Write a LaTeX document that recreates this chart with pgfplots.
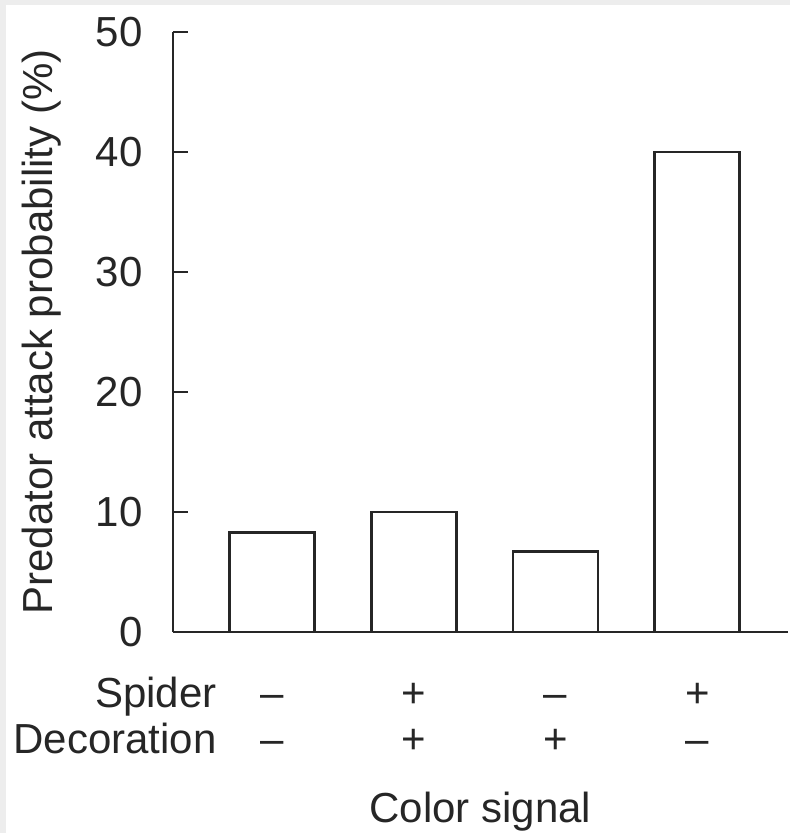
\documentclass[border=0pt]{standalone}
\usepackage{fontspec}
\setmainfont{Liberation Sans}
\usepackage{pgfplots}
\pgfplotsset{compat=1.18}

\newcommand{\chartfont}{\fontsize{21}{23}\selectfont}

\begin{document}
\begin{tikzpicture}
  % frame: light grey strip on the left and top
  \fill[gray!14] (-86.5pt,-100.5pt) rectangle (308.5pt,316pt);
  \fill[white] (-83.5pt,-100.5pt) rectangle (308.5pt,313.5pt);
  \begin{axis}[
    at={(0,0)}, anchor=south west,
    scale only axis,
    width=307.5pt, height=300pt,
    clip=false,
    ybar,
    bar width=42.5pt,
    xmin=0.3, xmax=4.64,
    ymin=0, ymax=50,
    enlargelimits=false,
    axis x line*=bottom,
    axis y line*=left,
    axis line style={-, line width=1.35pt, black!85},
    tick align=inside,
    major tick length=7.5pt,
    ytick={0,10,20,30,40,50},
    xtick={1,2,3,4},
    xticklabels={{–\\–},{+\\+},{–\\+},{+\\–}},
    xtick style={draw=none},
    ytick style={line width=1.35pt, black!85},
    /pgf/number format/assume math mode=true,
    tick label style={font=\chartfont, text=black!85},
    yticklabel style={inner sep=0pt, xshift=-15pt},
    xticklabel style={align=center, anchor=base, inner sep=0pt, yshift=-60.5pt},
    label style={font=\chartfont, text=black!85},
    xlabel={Color signal},
    xlabel style={at={(axis description cs:0.5,-0.3167)}, anchor=base},
    ylabel={Predator attack probability (\%)},
    ylabel style={at={(axis description cs:-0.1967,0.5)}, anchor=base},
  ]
    \addplot[draw=black!85, fill=white, line width=1.35pt]
      coordinates {(1,8.3) (2,10) (3,6.7) (4,40)};
    \node[anchor=base east, align=right, inner sep=0pt, font=\chartfont, text=black!85]
      at (axis description cs:0.0715,-0.2017) {Spider\\Decoration};
  \end{axis}
  \pgfresetboundingbox
  \path[use as bounding box] (-86.5pt,-100.5pt) rectangle (308.5pt,316pt);
\end{tikzpicture}
\end{document}
